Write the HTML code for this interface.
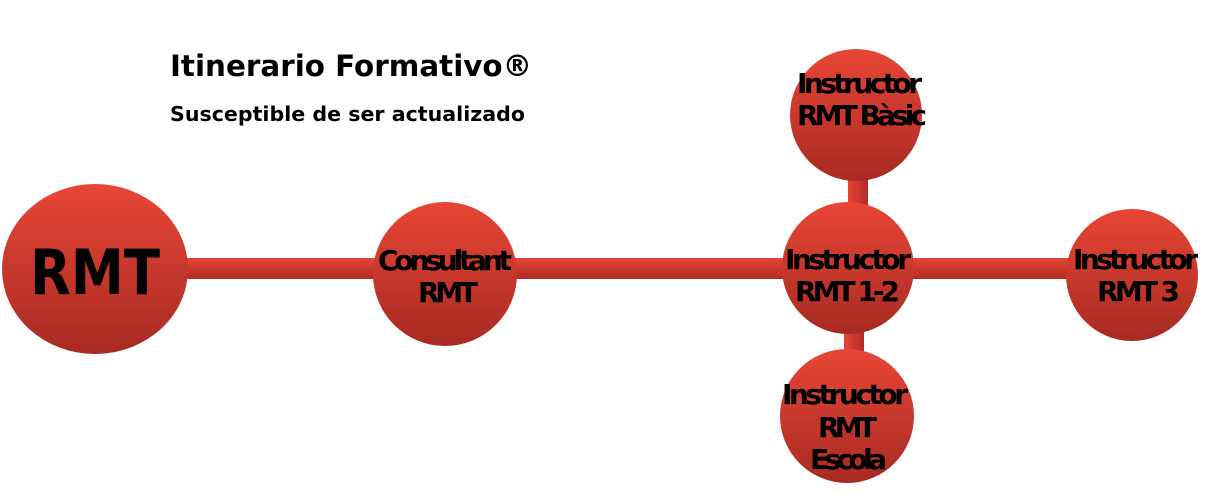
<!DOCTYPE html>
<html><head><meta charset="utf-8"><style>
html,body{margin:0;padding:0;background:#fff;width:1214px;height:492px;overflow:hidden}
svg text{font-family:"DejaVu Sans","Liberation Sans",sans-serif;font-weight:bold;fill:#000}
</style></head><body>
<svg width="1214" height="492" viewBox="0 0 1214 492" xmlns="http://www.w3.org/2000/svg">
<defs>
<linearGradient id="g" x1="0" y1="0" x2="0" y2="1">
<stop offset="0" stop-color="#e84636"/><stop offset="1" stop-color="#a82a22"/></linearGradient>
<linearGradient id="gb" x1="0" y1="0" x2="0" y2="1">
<stop offset="0" stop-color="#e64535"/><stop offset="1" stop-color="#b02c23"/></linearGradient>
<linearGradient id="gv" x1="0" y1="0" x2="1" y2="0">
<stop offset="0" stop-color="#e64535"/><stop offset="1" stop-color="#b02c23"/></linearGradient>
</defs>
<text x="170" y="76" font-size="29" textLength="362" lengthAdjust="spacingAndGlyphs">Itinerario Formativo®</text>
<text x="170" y="121" font-size="20" textLength="355" lengthAdjust="spacingAndGlyphs">Susceptible de ser actualizado</text>
<rect x="180" y="258" width="890" height="21" fill="url(#gb)"/>
<rect x="848" y="178" width="20" height="28" fill="url(#gv)"/>
<rect x="844" y="330" width="20" height="22" fill="url(#gv)"/>
<ellipse cx="95" cy="269" rx="93" ry="85" fill="url(#g)"/>
<circle cx="445" cy="274" r="72" fill="url(#g)"/>
<circle cx="856" cy="115" r="66" fill="url(#g)"/>
<circle cx="848" cy="268" r="66" fill="url(#g)"/>
<circle cx="847" cy="416" r="67" fill="url(#g)"/>
<circle cx="1132" cy="275" r="66" fill="url(#g)"/>
<text x="30" y="294" font-size="62" textLength="130" lengthAdjust="spacingAndGlyphs">RMT</text>
<g font-size="28" lengthAdjust="spacingAndGlyphs">
<text x="378" y="270" textLength="134">Consultant</text><text x="418" y="302" textLength="60">RMT</text>
<text x="797" y="93" textLength="125">Instructor</text><text x="797" y="125" textLength="130">RMT Bàsic</text>
<text x="785" y="269" textLength="126">Instructor</text><text x="795" y="301" textLength="105">RMT 1-2</text>
<text x="782" y="404" textLength="126">Instructor</text><text x="818" y="437" textLength="59">RMT</text><text x="810" y="469" textLength="77">Escola</text>
<text x="1073" y="269" textLength="125">Instructor</text><text x="1097" y="301" textLength="83">RMT 3</text>
</g>
</svg>
</body></html>
